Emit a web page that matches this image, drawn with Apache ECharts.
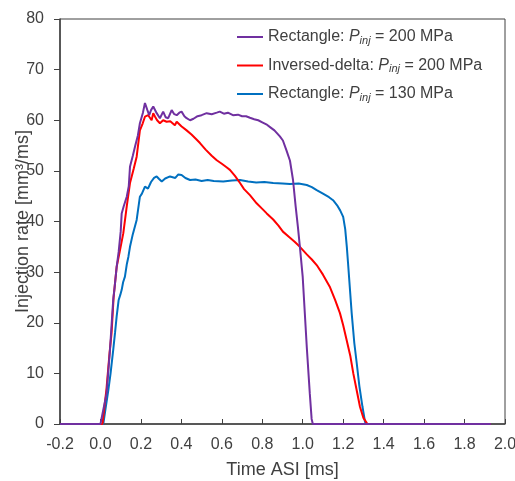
<!DOCTYPE html>
<html>
<head>
<meta charset="utf-8">
<script src="https://cdn.jsdelivr.net/npm/echarts@6/dist/echarts.min.js"></script>
<style>
  html, body { margin: 0; padding: 0; background: #fff; }
  #chart { width: 515px; height: 481px; }
</style>
</head>
<body>
<div id="chart"></div>
<script>
// Rectangle, Pinj = 200 MPa
const timeRect200 = [-0.2, 0.0, 0.006, 0.03, 0.047, 0.063, 0.07, 0.08, 0.09, 0.1, 0.105, 0.115, 0.13, 0.14, 0.146, 0.16, 0.171, 0.185, 0.195, 0.21, 0.22, 0.225, 0.232, 0.241, 0.25, 0.261, 0.278, 0.294, 0.31, 0.322, 0.335, 0.352, 0.365, 0.377, 0.39, 0.401, 0.415, 0.426, 0.443, 0.46, 0.48, 0.5, 0.525, 0.55, 0.575, 0.59, 0.61, 0.63, 0.655, 0.68, 0.7, 0.72, 0.739, 0.76, 0.78, 0.8, 0.82, 0.84, 0.86, 0.887, 0.902, 0.92, 0.937, 0.952, 0.965, 0.976, 0.986, 1.0, 1.02, 1.035, 1.044, 1.05, 1.93];
const rateRect200 = [0, 0, 0, 6, 14.6, 24.5, 27, 31, 34, 38, 41.6, 43, 44.9, 47, 50.8, 53, 54.8, 57, 59.4, 61.5, 63.4, 63.7, 62, 61, 62, 62.7, 61.4, 60.4, 61.7, 60.6, 60.4, 62, 61.2, 61, 61.5, 61.7, 60.8, 60.4, 60, 60.3, 60.8, 61, 61.4, 61.2, 61.5, 61.7, 61.3, 61.5, 61, 61.1, 60.8, 60.8, 60.5, 60.2, 60, 59.6, 59.2, 58.6, 58, 56.8, 56, 54, 52, 48.2, 43, 39, 35, 29, 15.2, 6, 1, 0, 0];

// Inversed-delta, Pinj = 200 MPa
const timeDelta200 = [-0.2, 0.0, 0.01, 0.03, 0.045, 0.055, 0.065, 0.08, 0.095, 0.113, 0.13, 0.146, 0.165, 0.179, 0.195, 0.209, 0.22, 0.236, 0.253, 0.261, 0.27, 0.28, 0.294, 0.31, 0.327, 0.345, 0.368, 0.377, 0.4, 0.426, 0.45, 0.475, 0.492, 0.52, 0.55, 0.575, 0.6, 0.62, 0.64, 0.665, 0.69, 0.71, 0.739, 0.772, 0.8, 0.822, 0.854, 0.88, 0.902, 0.937, 0.96, 0.986, 1.02, 1.045, 1.069, 1.1, 1.135, 1.16, 1.184, 1.2, 1.217, 1.235, 1.25, 1.265, 1.283, 1.3, 1.32, 1.93];
const rateDelta200 = [0, 0, 0, 7, 14, 18, 25, 31, 34, 37.7, 43, 47.6, 50.5, 52.8, 58, 59.4, 60.7, 61, 60, 61.4, 60.7, 60, 59.4, 60, 59.7, 59.8, 59, 59.7, 58.8, 58, 57.2, 56.2, 55.5, 54.2, 53, 52.1, 51.4, 50.8, 50.2, 49, 47.6, 46.4, 45.2, 43.6, 42.5, 41.6, 40.4, 39.2, 38, 36.8, 36, 35, 33.5, 32.5, 31.4, 29.5, 27, 24.5, 21.9, 19.5, 16.6, 13.5, 10, 7, 3.4, 1.2, 0, 0];

// Rectangle, Pinj = 130 MPa
const timeRect130 = [-0.2, 0.0, 0.014, 0.025, 0.039, 0.05, 0.063, 0.072, 0.08, 0.09, 0.098, 0.105, 0.112, 0.121, 0.13, 0.138, 0.146, 0.16, 0.179, 0.19, 0.195, 0.205, 0.22, 0.235, 0.25, 0.265, 0.278, 0.29, 0.303, 0.32, 0.344, 0.37, 0.385, 0.401, 0.42, 0.443, 0.47, 0.5, 0.53, 0.56, 0.607, 0.65, 0.69, 0.73, 0.77, 0.81, 0.854, 0.9, 0.937, 0.98, 1.02, 1.045, 1.069, 1.1, 1.13, 1.15, 1.17, 1.185, 1.2, 1.21, 1.218, 1.224, 1.242, 1.255, 1.267, 1.28, 1.295, 1.308, 1.315, 1.93];
const rateRect130 = [0, 0, 0, 3, 6.7, 10, 14.6, 18, 21.2, 24.5, 25.5, 26.5, 28, 29.1, 31.5, 33, 35, 37.5, 40.3, 43.5, 44.9, 45.5, 46.9, 46.5, 47.8, 48.6, 48.9, 48.4, 47.9, 48.5, 48.9, 48.6, 49.3, 49.2, 48.6, 48.2, 48.3, 48, 48.2, 48, 47.9, 48.1, 48.2, 47.9, 47.7, 47.8, 47.6, 47.5, 47.4, 47.5, 47.2, 46.8, 46.2, 45.5, 44.8, 44.2, 43.2, 42.2, 40.9, 38.5, 35, 31.8, 21.9, 16, 12, 7.5, 3.5, 0.4, 0, 0];

const seriesNames = ['rect200', 'delta200', 'rect130'];
const legendLabels = {
  rect200: ['Rectangle: ', ' = 200 MPa'],
  delta200: ['Inversed-delta: ', ' = 200 MPa'],
  rect130: ['Rectangle: ', ' = 130 MPa'],
};
const colors = { rect200: '#7030A0', delta200: '#FF0000', rect130: '#0070C0' };

const zip = (xs, ys) => xs.map((x, i) => [x, ys[i]]);

const axisColor = '#404040';
const textColor = '#404040';

const makeSeries = (name, data) => ({
  name,
  type: 'line',
  data,
  showSymbol: false,
  symbol: 'none',
  animation: false,
  lineStyle: { color: colors[name], width: 2 },
  itemStyle: { color: colors[name] },
});

const chart = echarts.init(document.getElementById('chart'), null, { renderer: 'canvas' });

chart.setOption({
  animation: false,
  textStyle: { fontFamily: 'Liberation Sans, Arial, sans-serif' },
  grid: {
    left: 60,
    right: 10,
    top: 19,
    bottom: 57,
    outerBoundsMode: 'none',
    containLabel: false,
    show: true,
    borderColor: axisColor,
    borderWidth: 1,
  },
  legend: {
    orient: 'vertical',
    left: 232,
    top: 23,
    itemGap: 10.5,
    itemWidth: 26,
    itemHeight: 2,
    icon: 'rect',
    data: seriesNames,
    formatter(name) {
      const l = legendLabels[name];
      return `{a|${l[0]}}{p|P}{s|inj}{a|${l[1]}}`;
    },
    textStyle: {
      rich: {
        a: { fontSize: 16, color: textColor, fontFamily: 'Liberation Sans, Arial', lineHeight: 18 },
        p: { fontSize: 16, color: textColor, fontStyle: 'italic', fontFamily: 'Liberation Sans, Arial', lineHeight: 18 },
        s: { fontSize: 11, color: textColor, fontStyle: 'italic', fontFamily: 'Liberation Sans, Arial', padding: [7, 0, 0, 0], lineHeight: 18 },
      },
    },
  },
  xAxis: {
    type: 'value',
    min: -0.2,
    max: 2.0,
    interval: 0.2,
    name: 'Time ASI [ms]',
    nameLocation: 'middle',
    nameGap: 37,
    nameMoveOverlap: false,
    nameTextStyle: { fontSize: 18, color: textColor },
    axisLine: { show: true, onZero: false, lineStyle: { color: axisColor, width: 1.5 } },
    axisTick: { show: true, inside: true, length: 5, lineStyle: { color: axisColor } },
    axisLabel: {
      fontSize: 16,
      color: textColor,
      margin: 13,
      formatter: (v) => v.toFixed(1),
    },
    splitLine: { show: false },
  },
  yAxis: {
    type: 'value',
    min: 0,
    max: 80,
    interval: 10,
    name: 'Injection rate [mm³/ms]',
    nameLocation: 'middle',
    nameGap: 28,
    nameMoveOverlap: false,
    nameRotate: 90,
    nameTextStyle: { fontSize: 18, color: textColor },
    axisLine: { show: true, onZero: false, lineStyle: { color: axisColor, width: 1.5 } },
    axisTick: { show: true, inside: false, length: 6, lineStyle: { color: axisColor } },
    axisLabel: { fontSize: 16, color: textColor, margin: 16 },
    splitLine: { show: false },
  },
  series: [
    makeSeries('rect130', zip(timeRect130, rateRect130)),
    makeSeries('delta200', zip(timeDelta200, rateDelta200)),
    makeSeries('rect200', zip(timeRect200, rateRect200)),
  ],
});
</script>
</body>
</html>
